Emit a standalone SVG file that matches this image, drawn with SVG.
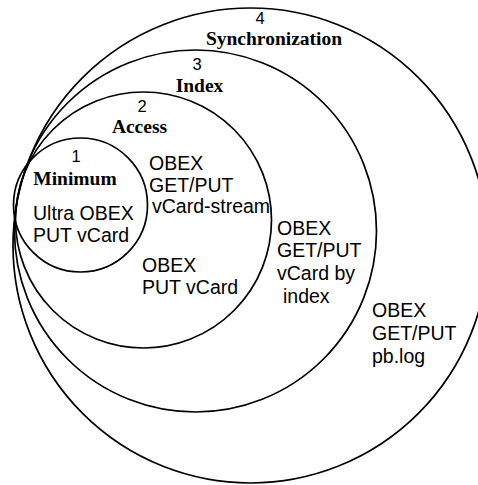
<svg xmlns="http://www.w3.org/2000/svg" width="478" height="485" viewBox="0 0 478 485">
<style>
.ring{fill:none;stroke:#000;stroke-width:1.7}
.num{font-family:"Liberation Sans",Arial,sans-serif;font-size:16.5px;fill:#000;text-anchor:middle}
.ttl{font-family:"Liberation Serif","Times New Roman",serif;font-size:19.5px;font-weight:bold;fill:#000;text-anchor:middle}
.txt{font-family:"Liberation Sans",Arial,sans-serif;font-size:19.5px;fill:#000}
</style>
<rect width="478" height="485" fill="#fff"/>
<g id="level4">
<circle class="ring" cx="250.5" cy="245.5" r="237.5"/>
<text class="num" x="260" y="24">4</text>
<text class="ttl" x="274" y="45">Synchronization</text>
<text class="txt" x="372" y="317">OBEX</text>
<text class="txt" x="372" y="340">GET/PUT</text>
<text class="txt" x="372" y="363">pb.log</text>
</g>
<g id="level3">
<circle class="ring" cx="195.5" cy="231" r="181"/>
<text class="num" x="197" y="70">3</text>
<text class="ttl" x="199.5" y="92">Index</text>
<text class="txt" x="277" y="235">OBEX</text>
<text class="txt" x="277" y="257">GET/PUT</text>
<text class="txt" x="277" y="280">vCard by</text>
<text class="txt" x="283" y="303">index</text>
</g>
<g id="level2">
<circle class="ring" cx="143.5" cy="220" r="128"/>
<text class="num" x="142" y="112">2</text>
<text class="ttl" x="139.5" y="133">Access</text>
<text class="txt" x="149" y="170">OBEX</text>
<text class="txt" x="149" y="192">GET/PUT</text>
<text class="txt" x="152" y="213">vCard-stream</text>
<text class="txt" x="142" y="272">OBEX</text>
<text class="txt" x="142" y="294">PUT vCard</text>
</g>
<g id="level1">
<circle class="ring" cx="80.5" cy="205" r="67"/>
<text class="num" x="76" y="162">1</text>
<text class="ttl" x="75" y="185">Minimum</text>
<text class="txt" x="33" y="220">Ultra OBEX</text>
<text class="txt" x="33" y="242">PUT vCard</text>
</g>
</svg>
